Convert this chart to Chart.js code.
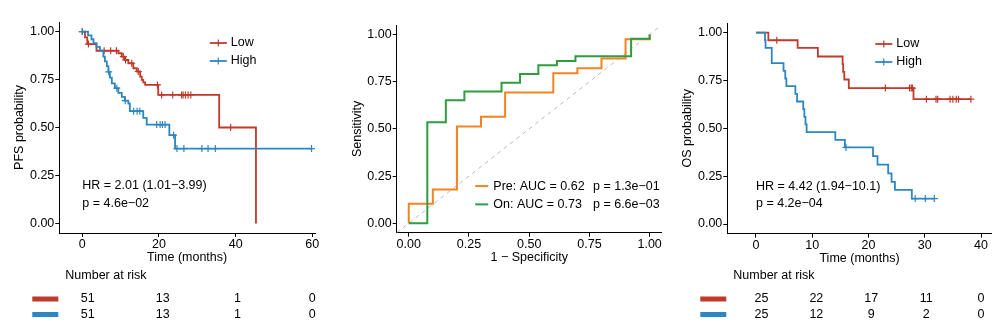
<!DOCTYPE html>
<html>
<head>
<meta charset="utf-8">
<script src="https://cdn.jsdelivr.net/npm/chart.js@4.4.1/dist/chart.umd.min.js"></script>
<style>
body{margin:0;background:#fff;}
#wrap{position:relative;width:1000px;height:330px;}
canvas{position:absolute;top:0;}
</style>
</head>
<body>
<div id="wrap">
<canvas id="pfs" width="333" height="330" style="left:0px"></canvas>
<canvas id="roc" width="334" height="330" style="left:333px"></canvas>
<canvas id="os" width="333" height="330" style="left:667px"></canvas>
</div>
<script>
var RED = '#C0392B', BLUE = '#2E86C1', ORANGE = '#F5821F', GREEN = '#2E9D3F';
var FAMILY = '"Liberation Sans", Arial, Helvetica, sans-serif';
var FONT = '12.5px ' + FAMILY;

var probTicks = [0, 0.25, 0.5, 0.75, 1];

// PFS, Low group (red)
var pfsLowTime = [0, 0.7, 1.3, 3.7, 9.4, 10.3, 11.1, 12.0, 13.3, 14.2, 15.1, 15.5, 15.9, 16.4, 19.8, 35.7, 45.3];
var pfsLowSurv = [1, 0.97, 0.935, 0.90, 0.887, 0.870, 0.852, 0.835, 0.809, 0.792, 0.765, 0.748, 0.735, 0.722, 0.67, 0.50, 0];
var pfsLowCens = [0, 1.6, 5.7, 7.4, 8.9, 10.7, 11.3, 12.9, 14.6, 19.6, 20.7, 23.6, 25.9, 26.3, 26.9, 27.6, 28.3, 38.7];
// PFS, High group (blue)
var pfsHighTime = [0, 1.5, 2.4, 2.9, 3.7, 4.6, 5.5, 5.9, 6.4, 6.8, 7.2, 7.7, 8.5, 9.4, 10.3, 11.1, 12.0, 12.4, 15.9, 16.8, 22.7, 24.2, 59.8];
var pfsHighSurv = [1, 0.98, 0.96, 0.94, 0.92, 0.90, 0.87, 0.845, 0.82, 0.79, 0.76, 0.73, 0.705, 0.68, 0.66, 0.64, 0.625, 0.585, 0.55, 0.515, 0.46, 0.39, 0.39];
var pfsHighCens = [0, 6.9, 9.0, 11.2, 13.4, 14.3, 15.0, 19.4, 20.3, 20.9, 21.6, 23.8, 24.7, 26.5, 31.2, 32.8, 34.7, 59.8];
var pfsTicks = [0, 20, 40, 60];
var pfsRiskLow = [51, 13, 1, 0];
var pfsRiskHigh = [51, 13, 1, 0];

// OS, Low group (red)
var osLowTime = [0, 2.2, 7.4, 11.0, 15.4, 15.5, 15.7, 16.5, 28.0, 38.2];
var osLowSurv = [1, 0.96, 0.92, 0.875, 0.835, 0.795, 0.755, 0.71, 0.652, 0.652];
var osLowCens = [3.7, 23.0, 27.3, 27.6, 27.8, 30.3, 32.0, 32.3, 34.5, 35.0, 35.6, 36.0, 38.2];
// OS, High group (blue)
var osHighTime = [0, 1.6, 1.7, 2.8, 4.9, 5.2, 5.4, 7.0, 7.3, 8.4, 8.6, 8.8, 9.0, 14.1, 15.8, 20.8, 21.6, 23.5, 24.1, 24.7, 27.7, 31.7];
var osHighSurv = [1, 0.96, 0.92, 0.84, 0.80, 0.76, 0.72, 0.68, 0.64, 0.60, 0.56, 0.52, 0.48, 0.44, 0.40, 0.355, 0.31, 0.265, 0.22, 0.178, 0.133, 0.133];
var osHighCens = [16.0, 28.3, 30.1, 31.7];
var osTicks = [0, 10, 20, 30, 40];
var osRiskLow = [25, 22, 17, 11, 0];
var osRiskHigh = [25, 12, 9, 2, 0];

// ROC curves
var preFpr = [0, 0, 0.1, 0.1, 0.2, 0.2, 0.3, 0.3, 0.4, 0.4, 0.6, 0.6, 0.7, 0.7, 0.8, 0.8, 0.9, 0.9, 1, 1];
var preTpr = [0, 0.103, 0.103, 0.179, 0.179, 0.513, 0.513, 0.564, 0.564, 0.692, 0.692, 0.795, 0.795, 0.821, 0.821, 0.872, 0.872, 0.974, 0.974, 1];
var onFpr = [0, 0.077, 0.077, 0.154, 0.154, 0.231, 0.231, 0.385, 0.385, 0.462, 0.462, 0.538, 0.538, 0.615, 0.615, 0.692, 0.692, 0.923, 0.923, 1, 1];
var onTpr = [0, 0, 0.535, 0.535, 0.651, 0.651, 0.698, 0.698, 0.744, 0.744, 0.791, 0.791, 0.837, 0.837, 0.86, 0.86, 0.884, 0.884, 0.977, 0.977, 1];

Chart.defaults.font.family = FAMILY;
Chart.defaults.font.size = 12.5;
Chart.defaults.color = '#000';

function pts(xs, ys) {
  return xs.map(function (v, i) { return { x: v, y: ys[i] }; });
}

function survAt(times, surv, t) {
  var s = surv[0];
  for (var i = 0; i < times.length; i++) { if (times[i] <= t) s = surv[i]; }
  return s;
}

function stepSet(times, surv, col) {
  return { data: pts(times, surv), borderColor: col, borderWidth: 1.8, stepped: true, pointRadius: 0, fill: false };
}

function censorSet(cens, times, surv, col) {
  var d = cens.map(function (t) { return { x: t, y: survAt(times, surv, t) }; });
  return { data: d, showLine: false, pointStyle: 'cross', pointRadius: 3.5, pointBorderWidth: 1.2,
    pointBorderColor: col, borderColor: col, backgroundColor: col };
}

function makeAxis(min, max, tickVals, digits, title, size, vertical, titlePad) {
  return {
    type: 'linear', min: min, max: max,
    afterBuildTicks: function (s) { s.ticks = tickVals.map(function (v) { return { value: v }; }); },
    afterFit: function (s) { if (vertical) s.width = size; else s.height = size; },
    ticks: { color: '#000', padding: vertical ? 1 : 0, autoSkip: false, maxRotation: 0,
      callback: function (v) { return v.toFixed(digits); } },
    grid: { drawOnChartArea: false, drawTicks: true, tickLength: 4, tickColor: '#000', tickWidth: 1 },
    border: { display: true, color: '#000', width: 1 },
    title: { display: true, text: title, color: '#000', padding: titlePad }
  };
}

function kmDecor(d) {
  return {
    id: 'kmDecor',
    afterDraw: function (chart) {
      var ctx = chart.ctx, xs = chart.scales.x, ys = chart.scales.y, a = chart.chartArea;
      ctx.save();
      ctx.font = FONT;
      ctx.fillStyle = '#000';
      ctx.textBaseline = 'middle';
      ctx.textAlign = 'left';
      ctx.fillText(d.hr, xs.getPixelForValue(0), ys.getPixelForValue(0.195));
      ctx.fillText(d.p, xs.getPixelForValue(0), ys.getPixelForValue(0.105));
      // legend
      var groups = [['Low', RED], ['High', BLUE]];
      groups.forEach(function (g, i) {
        var ly = a.top + 21 + i * 18, lx = a.left + d.legX;
        ctx.strokeStyle = g[1];
        ctx.lineWidth = 1.8;
        ctx.beginPath(); ctx.moveTo(lx, ly); ctx.lineTo(lx + 17, ly); ctx.stroke();
        ctx.lineWidth = 1.2;
        ctx.beginPath(); ctx.moveTo(lx + 8.5, ly - 3.5); ctx.lineTo(lx + 8.5, ly + 3.5); ctx.stroke();
        ctx.fillText(g[0], lx + 21, ly);
      });
      // risk table
      ctx.fillText('Number at risk', a.left + 6, 276);
      var last = d.xTicks[d.xTicks.length - 1];
      var p0 = xs.getPixelForValue(0) + 5.5, p1 = xs.getPixelForValue(last);
      var rows = [[d.riskLow, RED, 299], [d.riskHigh, BLUE, 314.5]];
      ctx.textAlign = 'center';
      rows.forEach(function (r) {
        ctx.fillStyle = r[1];
        ctx.fillRect(a.left - 27, r[2] - 2.5, 26, 5);
        ctx.fillStyle = '#000';
        r[0].forEach(function (n, i) {
          ctx.fillText(String(n), p0 + (p1 - p0) * d.xTicks[i] / last, r[2]);
        });
      });
      ctx.restore();
    }
  };
}

function kmChart(id, d) {
  new Chart(document.getElementById(id), {
    type: 'line',
    data: { datasets: [
      censorSet(d.highCens, d.highTime, d.highSurv, BLUE),
      stepSet(d.highTime, d.highSurv, BLUE),
      censorSet(d.lowCens, d.lowTime, d.lowSurv, RED),
      stepSet(d.lowTime, d.lowSurv, RED)
    ] },
    options: {
      responsive: false, animation: false, events: [],
      layout: { padding: { left: 0, right: d.padRight, top: d.padTop, bottom: d.padBottom } },
      plugins: { legend: { display: false }, tooltip: { enabled: false } },
      scales: {
        x: makeAxis(d.xMin, d.xMax, d.xTicks, 0, 'Time (months)', 35, false, { top: 0, bottom: 2.5 }),
        y: makeAxis(-0.05, 1.05, probTicks, 2, d.yTitle, d.yWidth, true, { top: d.yTitlePad, bottom: 0 })
      }
    },
    plugins: [kmDecor(d)]
  });
}

kmChart('pfs', {
  lowTime: pfsLowTime, lowSurv: pfsLowSurv, lowCens: pfsLowCens,
  highTime: pfsHighTime, highSurv: pfsHighSurv, highCens: pfsHighCens,
  xMin: -6, xMax: 60.7, xTicks: pfsTicks, riskLow: pfsRiskLow, riskHigh: pfsRiskHigh,
  yTitle: 'PFS probability', yWidth: 59.3, yTitlePad: 12.5,
  padRight: 18, padTop: 22, padBottom: 62, legX: 150.5,
  hr: 'HR = 2.01 (1.01\u22123.99)', p: 'p = 4.6e\u221202'
});

kmChart('os', {
  lowTime: osLowTime, lowSurv: osLowSurv, lowCens: osLowCens,
  highTime: osHighTime, highSurv: osHighSurv, highCens: osHighCens,
  xMin: -5.1, xMax: 41.9, xTicks: osTicks, riskLow: osRiskLow, riskHigh: osRiskHigh,
  yTitle: 'OS probability', yWidth: 60.3, yTitlePad: 13.5,
  padRight: 8.3, padTop: 23, padBottom: 61.4, legX: 148,
  hr: 'HR = 4.42 (1.94\u221210.1)', p: 'p = 4.2e\u221204'
});

// ROC panel
var rocDecor = {
  id: 'rocDecor',
  afterDraw: function (chart) {
    var ctx = chart.ctx, a = chart.chartArea, ys = chart.scales.y;
    var items = [[ORANGE, 'Pre: AUC = 0.62', 'p = 1.3e\u221201', 0.197], [GREEN, 'On: AUC = 0.73', 'p = 6.6e\u221203', 0.1]];
    ctx.save();
    ctx.font = FONT;
    ctx.fillStyle = '#000';
    ctx.textBaseline = 'middle';
    ctx.textAlign = 'left';
    items.forEach(function (it) {
      var ly = ys.getPixelForValue(it[3]);
      ctx.strokeStyle = it[0];
      ctx.lineWidth = 2;
      ctx.beginPath(); ctx.moveTo(a.left + 78.5, ly); ctx.lineTo(a.left + 91.5, ly); ctx.stroke();
      ctx.fillText(it[1], a.left + 96.6, ly);
      ctx.fillText(it[2], a.left + 196.3, ly);
    });
    ctx.restore();
  }
};

new Chart(document.getElementById('roc'), {
  type: 'line',
  data: { datasets: [
    { data: pts(onFpr, onTpr), borderColor: GREEN, borderWidth: 2, pointRadius: 0, fill: false },
    { data: pts(preFpr, preTpr), borderColor: ORANGE, borderWidth: 2, pointRadius: 0, fill: false },
    { data: pts([-0.05, 1.05], [-0.05, 1.05]), borderColor: '#B4BCC8', borderWidth: 1, borderDash: [4, 4], pointRadius: 0, fill: false }
  ] },
  options: {
    responsive: false, animation: false, events: [],
    layout: { padding: { left: 0, right: 5.3, top: 25, bottom: 62.3 } },
    plugins: { legend: { display: false }, tooltip: { enabled: false } },
    scales: {
      x: makeAxis(-0.05, 1.05, probTicks, 2, '1 \u2212 Specificity', 35, false, { top: 0, bottom: 2.5 }),
      y: makeAxis(-0.05, 1.05, probTicks, 2, 'Sensitivity', 63.7, true, { top: 17.5, bottom: 0 })
    }
  },
  plugins: [rocDecor]
});
</script>
</body>
</html>
